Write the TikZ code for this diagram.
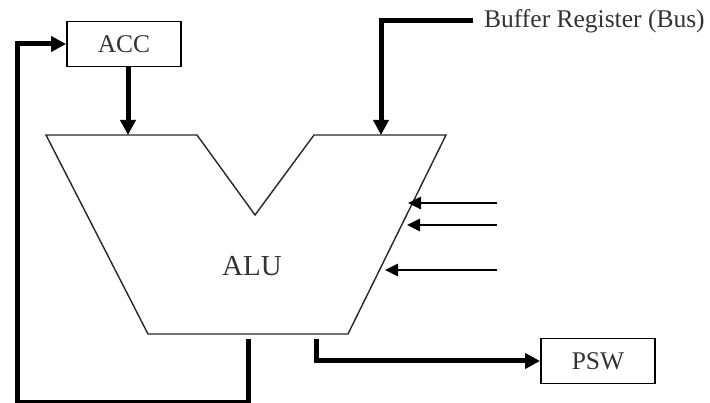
\documentclass[tikz,border=0pt]{standalone}
\usepackage{fontspec}
\setmainfont{Liberation Serif}
\usetikzlibrary{arrows.meta,positioning,calc}
\tikzset{
  regbox/.style={draw,line width=1.9pt,minimum width=114pt,minimum height=45pt,inner sep=0pt,text=black!80,font=\fontsize{25.5}{30}\selectfont},
  bigflow/.style={line width=5pt,-{Triangle[length=15pt,width=15pt]}},
  ctlflow/.style={line width=2.6pt,-{Triangle[length=13pt,width=12pt]}},
}

\begin{document}
\begin{tikzpicture}[x=1pt,y=-1pt,>=Stealth]
  \useasboundingbox (0,0) rectangle (710,403);
  % registers
  \node[regbox] (acc) at (124,44) {ACC};
  \node[regbox] (psw) at (598,361) {PSW};
  % ALU outline
  \draw[line width=1.4pt,line join=miter,black!85] (46,135) -- (197,135) -- (255,215) -- (314,135)
    -- (446,135) -- (348,334) -- (148,334) -- cycle;
  \node[text=black!80,font=\fontsize{29}{32}\selectfont] (alu) at (252,266) {ALU};

  % --- ACC into ALU ---
  \coordinate (accin) at (128,135);
  \draw[bigflow] (acc.south -| accin) -- (accin);

  % --- bus into ALU ---
  \node[anchor=west,inner xsep=11pt,text=black!80,font=\fontsize{25.5}{30}\selectfont] (bus) at (473,21) {Buffer Register (Bus)};
  \coordinate (busin) at (381,135);
  \draw[bigflow] (bus.west) -| (busin);

  % control inputs on the right side
  \coordinate (c1) at (497,203); \coordinate (c1t) at (408,203);
  \coordinate (c2) at (497,225); \coordinate (c2t) at (407,225);
  \coordinate (c3) at (497,270); \coordinate (c3t) at (385,270);
  \draw[ctlflow] (c1) -- (c1t);
  \draw[ctlflow] (c2) -- (c2t);
  \draw[ctlflow] (c3) -- (c3t);

  % --- flags out to PSW ---
  \coordinate (flagout) at (316,339);
  \draw[bigflow] (flagout) |- (psw.west);

  % --- result fed back to ACC ---
  \coordinate (resout) at (248,339);
  \draw[bigflow,line join=miter] (resout) -- (248,402.5) -- (17,402.5) |- (acc.west);
\end{tikzpicture}
\end{document}
